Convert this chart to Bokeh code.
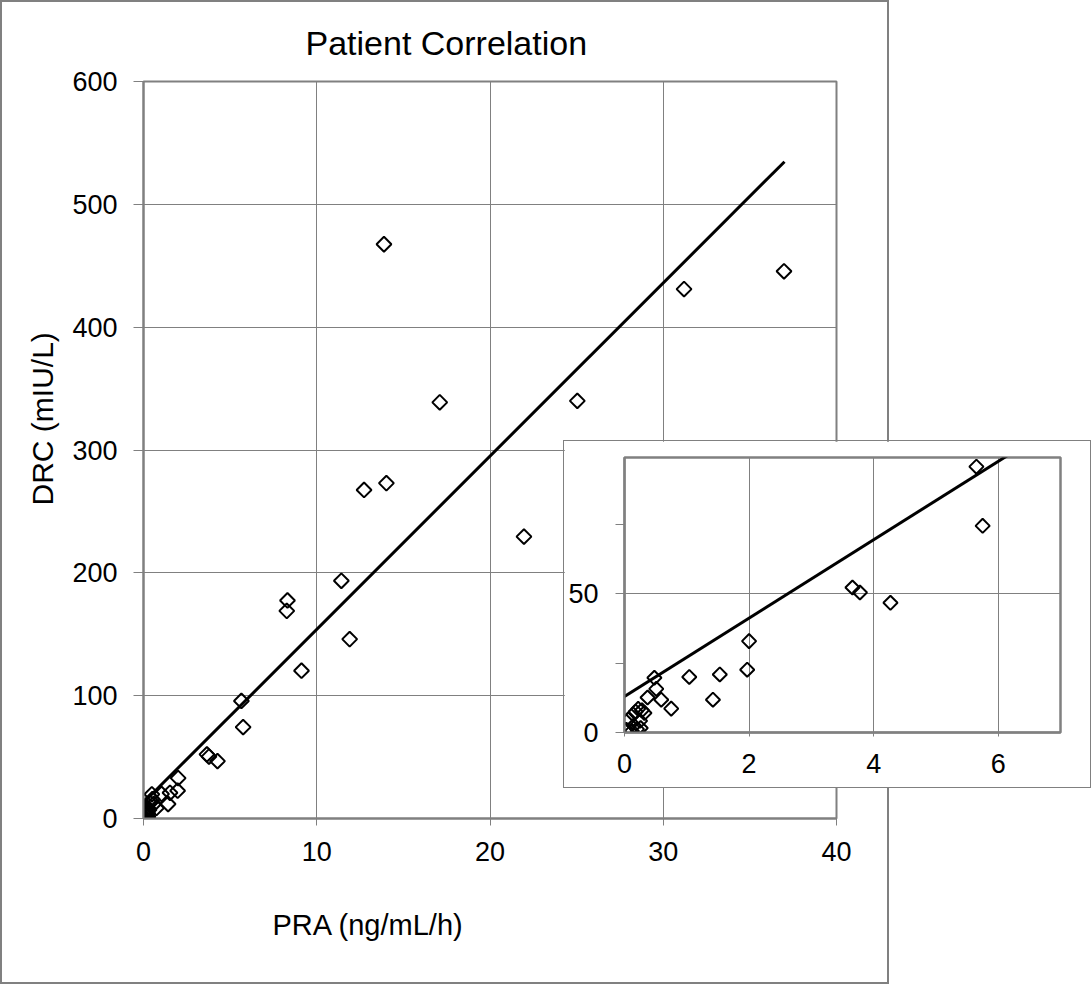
import numpy as np
from bokeh.plotting import figure
from bokeh.models import FixedTicker, Title, Range1d
from bokeh.embed import file_html
from bokeh.resources import INLINE

# ---- data ----
pra = [13.88, 36.97, 31.2, 17.1, 25.04, 12.73, 14.02, 21.96, 11.42, 8.31, 8.27, 11.9, 9.12,
       5.65, 5.75, 3.66, 3.78, 4.27, 2.0, 1.97, 1.53, 1.04, 1.42, 0.48, 0.51, 0.59, 0.75, 0.37,
       0.18, 0.22, 0.28, 0.32, 0.14, 0.06, 0.25, 0.03, 0.12, 0.2, 0.26, 0.15]
drc = [467.5, 445.5, 431.0, 338.8, 340.0, 267.5, 273.0, 229.5, 193.5, 177.5, 169.0, 146.0, 120.3,
       95.7, 74.4, 52.2, 50.4, 46.7, 32.9, 22.6, 20.9, 20.0, 11.8, 19.7, 15.7, 11.8, 8.6, 12.6,
       7.5, 8.5, 8.0, 7.0, 6.5, 4.6, 4.2, 1.0, 0.5, 1.2, 1.6, 2.5]
trend_x = [0.0, 37.0]
trend_y = [13.0, 534.7]

main_x_ticks = [0, 10, 20, 30, 40]
main_y_ticks = [0, 100, 200, 300, 400, 500, 600]
inset_x_ticks = [0, 2, 4, 6]
inset_y_ticks = [0, 25, 50, 75]
inset_y_hidden = {25: "", 75: ""}
inset_y_grid = [50]

TITLE = "Patient Correlation"
XLABEL = "PRA (ng/mL/h)"
YLABEL = "DRC (mIU/L)"

FONT = "Liberation Sans"
GRAY = "#808080"


def style_axis(ax, size):
    ax.major_label_text_font = FONT
    ax.major_label_text_font_size = size
    ax.major_label_text_color = "black"
    ax.minor_tick_line_color = None
    ax.major_tick_in = 0
    ax.major_tick_line_color = GRAY
    ax.axis_line_color = GRAY
    ax.axis_line_width = 2


# ---- main chart ----
p = figure(width=889, height=984, x_range=Range1d(0, 40), y_range=Range1d(0, 600),
           output_backend="svg", toolbar_location=None,
           min_border_left=141, min_border_right=55, min_border_top=79, min_border_bottom=168,
           styles={"border": "2px solid #808080"})
p.title.text = TITLE
p.title.align = "left"
p.title.offset = 162
p.title.standoff = 39
p.title.text_font = FONT
p.title.text_font_size = "34px"
p.title.text_font_style = "normal"
p.title.text_color = "black"

p.outline_line_color = GRAY
p.outline_line_width = 2

style_axis(p.xaxis[0], "27px")
style_axis(p.yaxis[0], "27px")
p.xaxis.ticker = FixedTicker(ticks=main_x_ticks)
p.yaxis.ticker = FixedTicker(ticks=main_y_ticks)
p.xaxis.major_tick_out = 7
p.xaxis.major_label_standoff = 16
p.yaxis.major_tick_out = 10
p.yaxis.major_label_standoff = 16

p.xgrid.grid_line_color = GRAY
p.ygrid.grid_line_color = GRAY

p.add_layout(Title(text=XLABEL, align="left", offset=129, standoff=87,
                   text_font=FONT, text_font_size="29px", text_font_style="normal",
                   text_color="black"), "below")
p.add_layout(Title(text=YLABEL, align="left", offset=313, standoff=21,
                   text_font=FONT, text_font_size="30px", text_font_style="normal",
                   text_color="black"), "left")

p.scatter(pra, drc, marker="square", size=10.5, angle=np.pi / 4,
          line_color="black", line_width=2, fill_color=None)
p.line(trend_x, trend_y, line_color="black", line_width=3)

# ---- inset chart ----
q = figure(width=528, height=348, x_range=Range1d(0, 7), y_range=Range1d(0, 99),
           output_backend="svg", toolbar_location=None, title=None,
           min_border_left=60, min_border_right=32, min_border_top=16, min_border_bottom=57,
           styles={"border": "1px solid #808080"}, margin=(-544, 0, 0, 563))
q.outline_line_color = GRAY
q.outline_line_width = 2.5
style_axis(q.xaxis[0], "27px")
style_axis(q.yaxis[0], "27px")
q.xaxis.ticker = FixedTicker(ticks=inset_x_ticks)
q.yaxis.ticker = FixedTicker(ticks=inset_y_ticks)
q.yaxis.major_label_overrides = inset_y_hidden
q.xaxis.major_tick_out = 4
q.xaxis.major_label_standoff = 17
q.yaxis.major_tick_out = 9
q.yaxis.major_label_standoff = 17
q.xgrid.grid_line_color = GRAY
q.ygrid.grid_line_color = GRAY
q.ygrid.ticker = FixedTicker(ticks=inset_y_grid)

q.scatter(pra, drc, marker="square", size=10, angle=np.pi / 4,
          line_color="black", line_width=2, fill_color=None)
q.line(trend_x, trend_y, line_color="black", line_width=3)

open("out.html", "w").write(file_html([p, q], INLINE))
